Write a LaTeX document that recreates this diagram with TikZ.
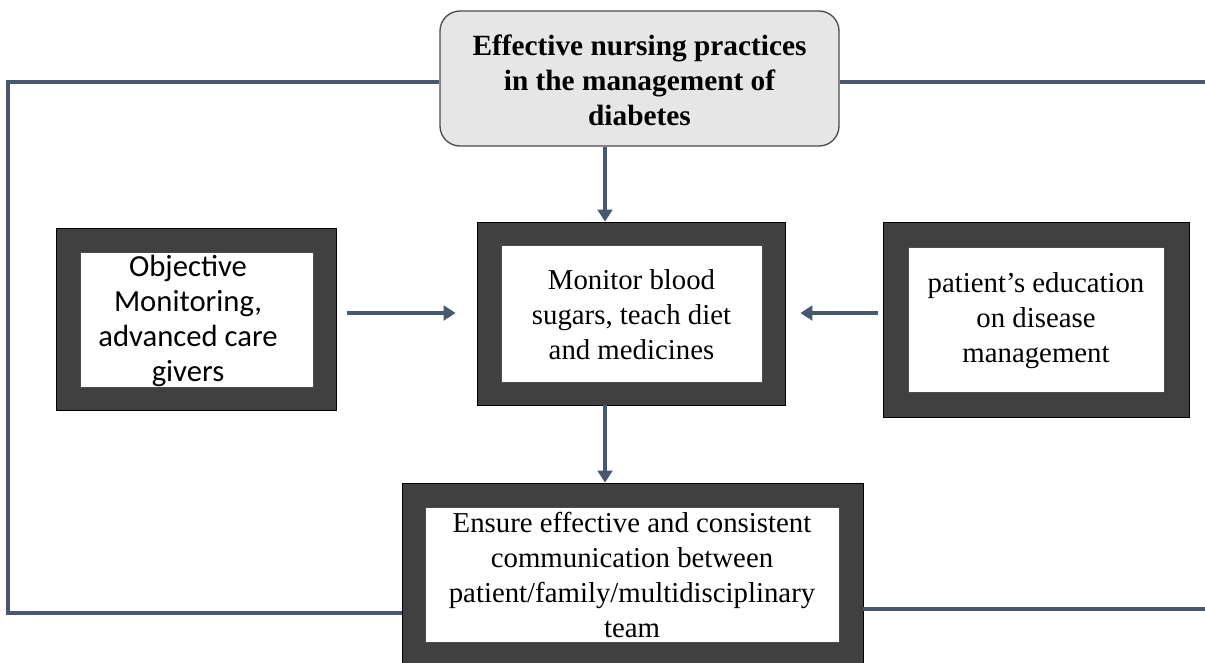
\documentclass[tikz,border=0pt]{standalone}
\usepackage{fontspec}
\setmainfont{Liberation Serif}
\newfontfamily\calibrifont{Carlito}
\usetikzlibrary{arrows.meta}
\definecolor{connc}{HTML}{485870}
\definecolor{framec}{HTML}{404040}
\definecolor{topfill}{HTML}{E6E6E6}
\tikzset{
  outerbox/.style={rectangle, draw=black, line width=0.6pt, fill=framec, inner sep=0pt},
  innerbox/.style={rectangle, draw=gray!60!black, line width=0.6pt, fill=white, inner sep=0pt},
  topbox/.style={rectangle, rounded corners=15pt, draw=black!70, line width=1pt, fill=topfill, inner sep=0pt},
  toptext/.style={align=center, inner sep=0pt, font=\fontsize{22pt}{26.25pt}\selectfont\bfseries},
  seriftext/.style={align=center, inner sep=0pt, font=\fontsize{21.6pt}{26.25pt}\selectfont},
  sanstext/.style={align=center, inner sep=0pt, font=\calibrifont\fontsize{23pt}{26.25pt}\selectfont},
  link/.style={draw=connc, line width=3pt},
  arr/.style={link, -{Triangle[length=9pt,width=11pt]}}
}
\begin{document}
\begin{tikzpicture}[x=0.75pt, y=-0.75pt]
\clip (0,0) rectangle (1205,662);
\useasboundingbox (0,0) rectangle (1205,662);
% top box
\node[topbox, minimum width=299.25pt, minimum height=101.25pt] (top) at (639.5,78.5) {};
\node[toptext] (toplabel) at (639.5,80.5)
  {Effective nursing practices\\in the management of\\diabetes};
% left box
\node[outerbox, minimum width=210pt, minimum height=136.5pt] (leftout) at (196,319) {};
\node[innerbox, minimum width=174.75pt, minimum height=101.25pt] (leftin) at (196.5,319.5) {};
\node[sanstext] (leftlabel) at (188,320.5)
  {Objective\\Monitoring,\\advanced care\\givers};
% middle box
\node[outerbox, minimum width=231pt, minimum height=137.25pt] (midout) at (631,313.5) {};
\node[innerbox, minimum width=195.75pt, minimum height=102.75pt] (midin) at (631.5,313.5) {};
\node[seriftext] (midlabel) at (631.5,315)
  {Monitor blood\\sugars, teach diet\\and medicines};
% right box
\node[outerbox, minimum width=229.5pt, minimum height=146.25pt] (rightout) at (1036,319.5) {};
\node[innerbox, minimum width=192pt, minimum height=108.75pt] (rightin) at (1036,319.5) {};
\node[seriftext] (rightlabel) at (1036,321)
  {patient’s education\\on disease\\management};
% bottom box
\node[outerbox, minimum width=345.75pt, minimum height=137.25pt] (botout) at (632.5,574.5) {};
\node[innerbox, minimum width=310.5pt, minimum height=101.25pt] (botin) at (632,574.5) {};
\node[seriftext] (botlabel) at (632,575)
  {Ensure effective and consistent\\communication between\\patient/family/multidisciplinary\\team};
% arrows
\draw[arr] (top.south -| 605,0) -- (midout.north -| 605,0);
\draw[arr] (midout.south -| 605,0) -- (botout.north -| 605,0);
\draw[arr, shorten <=8.25pt, shorten >=15.75pt] (leftout.east |- 0,313) -- (midout.west |- 0,313);
\draw[arr, shorten <=3.75pt, shorten >=11.25pt] (rightout.west |- 0,313) -- (midout.east |- 0,313);
% feedback lines
\coordinate (tr) at (1205,82);
\coordinate (br) at (1205,609);
\draw[link, line join=miter] (top.west |- 0,82) -- (8,82) -- (8,613) -- (botout.west |- 0,613);
\draw[link] (top.east |- 0,82) -- (tr);
\draw[link] (botout.east |- 0,609) -- (br);
\end{tikzpicture}
\end{document}
